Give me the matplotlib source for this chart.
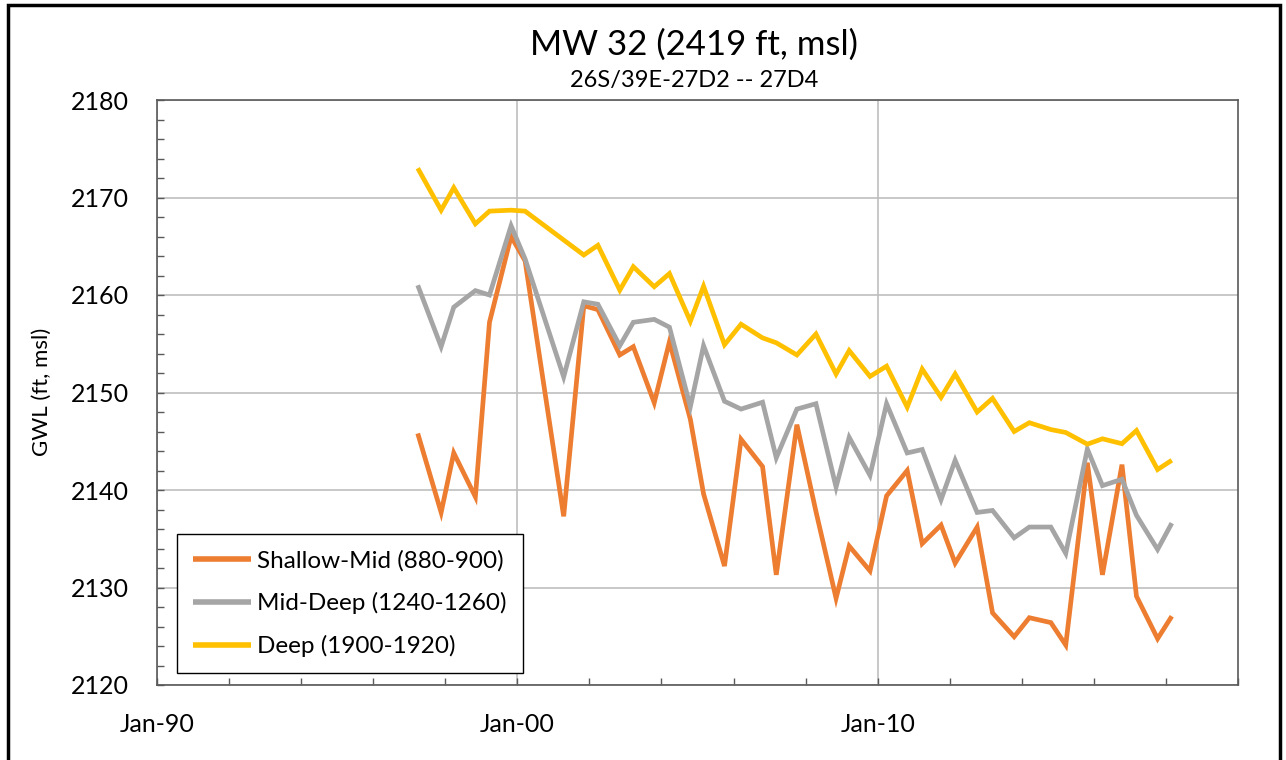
import matplotlib
matplotlib.use("Agg")
import matplotlib.pyplot as plt
import matplotlib.dates as mdates
import matplotlib.ticker as mticker
from matplotlib.patches import Rectangle
import numpy as np
import pandas as pd

plt.rcParams['font.family'] = ['Lato', 'DejaVu Sans']

# ---- data ----
dates = [
    "1997-03-28", "1997-11-20", "1998-03-28", "1998-11-02", "1999-03-25",
    "1999-10-30", "2000-03-20", "2001-04-15", "2001-11-05", "2002-03-28",
    "2002-11-05", "2003-03-22", "2003-10-20", "2004-03-22", "2004-10-20",
    "2005-03-03", "2005-10-01", "2006-03-18", "2006-10-22", "2007-03-10",
    "2007-10-05", "2008-04-15", "2008-11-05", "2009-03-18", "2009-10-15",
    "2010-04-01", "2010-10-27", "2011-03-28", "2011-10-05", "2012-02-25",
    "2012-10-05", "2013-03-10", "2013-10-15", "2014-03-18", "2014-10-22",
    "2015-03-22", "2015-10-27", "2016-03-28", "2016-10-12", "2017-03-08",
    "2017-10-08", "2018-03-01",
]

shallow_mid = [
    2145.8, 2137.7, 2143.8, 2139.3, 2157.2,
    2166.0, 2163.5, 2137.3, 2158.9, 2158.5,
    2153.85, 2154.7, 2148.95, 2155.2, 2147.25,
    2139.6, 2132.2, 2145.2, 2142.4, 2131.3,
    2146.7, 2137.8, 2128.9, 2134.25, 2131.7,
    2139.4, 2142.0, 2134.5, 2136.4, 2132.5,
    2136.2, 2127.4, 2124.95, 2126.9, 2126.4,
    2124.1, 2142.8, 2131.3, 2142.6, 2129.1,
    2124.75, 2127.05,
]

mid_deep = [
    2161.0, 2154.7, 2158.75, 2160.45, 2160.0,
    2167.1, 2163.7, 2151.6, 2159.3, 2159.05,
    2154.8, 2157.2, 2157.5, 2156.7, 2148.55,
    2154.8, 2149.1, 2148.3, 2149.0, 2143.3,
    2148.3, 2148.85, 2140.3, 2145.4, 2141.5,
    2148.85, 2143.8, 2144.15, 2139.0, 2143.05,
    2137.7, 2137.9, 2135.1, 2136.2, 2136.2,
    2133.5, 2144.2, 2140.45, 2141.1, 2137.4,
    2133.9, 2136.6,
]

deep = [
    2173.0, 2168.7, 2171.0, 2167.3, 2168.6,
    2168.7, 2168.6, None, 2164.1, 2165.1,
    2160.5, 2162.9, 2160.85, 2162.2, 2157.3,
    2160.9, 2154.9, 2157.0, 2155.6, 2155.1,
    2153.85, 2156.0, 2151.9, 2154.3, 2151.65,
    2152.7, 2148.5, 2152.4, 2149.5, 2151.9,
    2148.0, 2149.4, 2146.0, 2146.9, 2146.2,
    2145.9, 2144.7, 2145.25, 2144.75, 2146.1,
    2142.1, 2143.05,
]

series_labels = ["Shallow-Mid (880-900)", "Mid-Deep (1240-1260)", "Deep (1900-1920)"]
series_colors = ["#ED7D31", "#A5A5A5", "#FFC000"]
x_major_years = [1990, 2000, 2010]
y_ticks = [2120, 2130, 2140, 2150, 2160, 2170, 2180]

# ---- figure ----
W, H = 1286, 760
fig = plt.figure(figsize=(W / 100, H / 100), dpi=100)
fig.patch.set_facecolor("white")

left, right, top, bottom = 157, 1238, 100, 685
ax = fig.add_axes([left / W, 1 - bottom / H, (right - left) / W, (bottom - top) / H])

x = pd.to_datetime(dates)
for vals, lab, col in zip([shallow_mid, mid_deep, deep], series_labels, series_colors):
    s = pd.Series([np.nan if v is None else v for v in vals], index=x).dropna()
    ax.plot(s.index, s.values, color=col, lw=3.4, label=lab,
            solid_joinstyle="miter", solid_capstyle="butt", zorder=3)

ax.set_xlim(pd.Timestamp("1990-01-01"), pd.Timestamp("2020-01-01"))
ax.set_ylim(2120, 2180)

major_x = [mdates.date2num(pd.Timestamp(f"{y}-01-01")) for y in x_major_years]
ax.xaxis.set_major_locator(mticker.FixedLocator(major_x))
ax.xaxis.set_major_formatter(mdates.DateFormatter("%b-%y"))
ax.xaxis.set_minor_locator(mdates.YearLocator(2))
ax.yaxis.set_major_locator(mticker.FixedLocator(y_ticks))
ax.yaxis.set_minor_locator(mticker.MultipleLocator(2))

ax.grid(True, which="major", color="#BFBFBF", lw=1.2, zorder=0)
ax.set_axisbelow(True)

for sp in ax.spines.values():
    sp.set_color("#595959")
    sp.set_linewidth(1.2)

ax.tick_params(axis="both", which="both", direction="in", color="#595959", width=1)
ax.tick_params(axis="y", which="both", length=5, pad=20, labelsize=18, labelcolor="#000000")
ax.tick_params(axis="x", which="both", length=5, pad=20, labelsize=18, labelcolor="#000000")

fig.text(42 / W, 1 - 392 / H, "GWL (ft, msl)", rotation=90, ha="center", va="center", fontsize=16)
fig.text(694 / W, 1 - 45 / H, "MW 32 (2419 ft, msl)", ha="center", va="center", fontsize=25)
fig.text(694 / W, 1 - 81 / H, "26S/39E-27D2 -- 27D4", ha="center", va="center", fontsize=17)

leg = ax.legend(loc="lower left", bbox_to_anchor=((177 - left) / (right - left), (bottom - 673) / (bottom - top)),
                borderaxespad=0, fontsize=17.5, frameon=True, fancybox=False, framealpha=1,
                handlelength=2.4, handletextpad=0.25, labelspacing=0.85, borderpad=0.65)
leg.get_frame().set_edgecolor("#000000")
leg.get_frame().set_linewidth(1.0)
for line in leg.get_lines():
    line.set_linewidth(4)

# outer chart border
fig.patches.append(Rectangle((8 / W, -0.05), (1280 - 8) / W, 1.05 - 5 / H, transform=fig.transFigure,
                             fill=False, edgecolor="black", lw=2.5))

fig.savefig("out.png", dpi=100, facecolor="white")
